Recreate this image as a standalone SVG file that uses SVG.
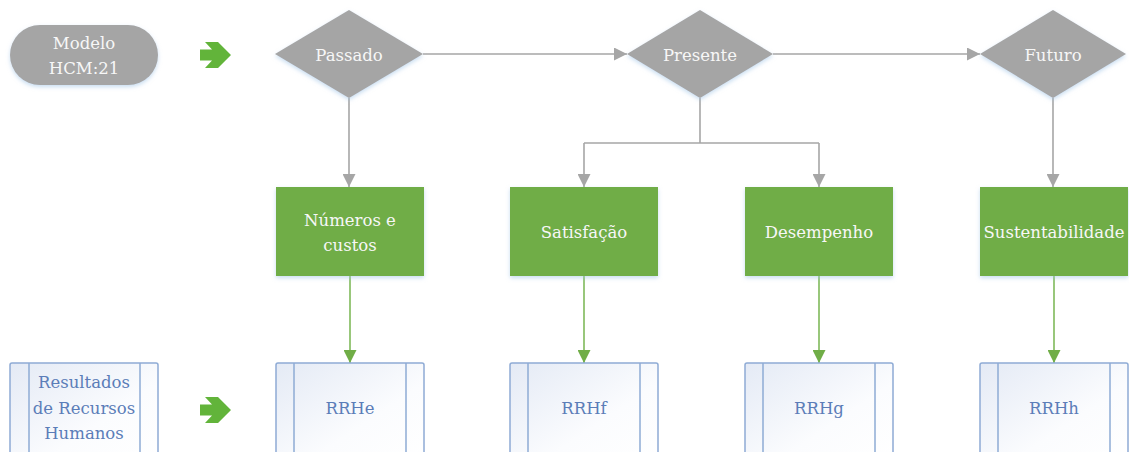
<svg xmlns="http://www.w3.org/2000/svg" width="1129" height="452" viewBox="0 0 1129 452">
<style>
.gray{fill:#a5a5a5}
.green{fill:#70ad47}
.blue{fill:url(#bg);stroke:#8eabd5;stroke-width:1.5}
.stripe{stroke:#8eabd5;stroke-width:1.5;fill:none}
.lt{font-family:'DejaVu Serif','Liberation Serif',serif;font-size:16.5px;fill:#f7f7f7;text-anchor:middle}
.bt{font-family:'DejaVu Serif','Liberation Serif',serif;font-size:16.5px;fill:#5b7db8;text-anchor:middle}
.cg{stroke:#a6a6a6;stroke-width:1.6;fill:none}
.cgr{stroke:#7fb95a;stroke-width:1.6;fill:none}
.big{fill:#62b43a}
</style>
<defs>
<linearGradient id="bg" x1="0" y1="0" x2="1" y2="1">
<stop offset="0" stop-color="#e4eaf5"/>
<stop offset="0.6" stop-color="#fbfcfe"/>
<stop offset="1" stop-color="#ffffff"/>
</linearGradient>
<filter id="sh" x="-10%" y="-10%" width="120%" height="130%">
<feDropShadow dx="0" dy="2" stdDeviation="2" flood-color="#9dc3e6" flood-opacity="0.55"/>
</filter>
<marker id="ag" viewBox="0 0 10 10" refX="10" refY="5" markerWidth="13" markerHeight="13" markerUnits="userSpaceOnUse" orient="auto">
<path d="M0,0 L10,5 L0,10 z" fill="#a6a6a6"/>
</marker>
<marker id="agr" viewBox="0 0 10 10" refX="10" refY="5" markerWidth="13" markerHeight="13" markerUnits="userSpaceOnUse" orient="auto">
<path d="M0,0 L10,5 L0,10 z" fill="#70ad47"/>
</marker>
</defs>

<g id="connectors">
<line class="cg" x1="423" y1="54" x2="627" y2="54" marker-end="url(#ag)"/>
<line class="cg" x1="773" y1="54" x2="980" y2="54" marker-end="url(#ag)"/>
<line class="cg" x1="349" y1="98" x2="349" y2="187" marker-end="url(#ag)"/>
<polyline class="cg" points="700,98 700,143"/>
<polyline class="cg" points="584,143 819,143"/>
<line class="cg" x1="584" y1="143" x2="584" y2="187" marker-end="url(#ag)"/>
<line class="cg" x1="819" y1="143" x2="819" y2="187" marker-end="url(#ag)"/>
<line class="cg" x1="1053" y1="98" x2="1053" y2="187" marker-end="url(#ag)"/>
<line class="cgr" x1="350" y1="276" x2="350" y2="363" marker-end="url(#agr)"/>
<line class="cgr" x1="584" y1="276" x2="584" y2="363" marker-end="url(#agr)"/>
<line class="cgr" x1="819" y1="276" x2="819" y2="363" marker-end="url(#agr)"/>
<line class="cgr" x1="1054" y1="276" x2="1054" y2="363" marker-end="url(#agr)"/>
</g>

<g id="modelo">
<rect class="gray" x="10" y="25" width="148" height="60" rx="30" filter="url(#sh)"/>
<text class="lt" x="84" y="49">Modelo</text>
<text class="lt" x="84" y="74">HCM:21</text>
</g>
<g id="arrow-top">
<path class="big" d="M200,49.5 H212 L205,42 H218 L231,55 L218,68 H205 L212,60.5 H200 Z"/>
</g>
<g id="passado">
<polygon class="gray" points="275,54 349,10 423,54 349,98" filter="url(#sh)"/>
<text class="lt" x="349" y="61">Passado</text>
</g>
<g id="presente">
<polygon class="gray" points="627,54 700,10 773,54 700,98" filter="url(#sh)"/>
<text class="lt" x="700" y="61">Presente</text>
</g>
<g id="futuro">
<polygon class="gray" points="980,54 1053,10 1126,54 1053,98" filter="url(#sh)"/>
<text class="lt" x="1053" y="61">Futuro</text>
</g>

<g id="numeros">
<rect class="green" x="276" y="187" width="148" height="89" filter="url(#sh)"/>
<text class="lt" x="350" y="226">Números e</text>
<text class="lt" x="350" y="251">custos</text>
</g>
<g id="satisfacao">
<rect class="green" x="510" y="187" width="148" height="89" filter="url(#sh)"/>
<text class="lt" x="584" y="238">Satisfação</text>
</g>
<g id="desempenho">
<rect class="green" x="745" y="187" width="148" height="89" filter="url(#sh)"/>
<text class="lt" x="819" y="238">Desempenho</text>
</g>
<g id="sustentabilidade">
<rect class="green" x="980" y="187" width="148" height="89" filter="url(#sh)"/>
<text class="lt" x="1054" y="238">Sustentabilidade</text>
</g>

<g id="resultados">
<rect class="blue" x="10" y="363" width="148" height="100" rx="2"/>
<line class="stripe" x1="29" y1="363" x2="29" y2="463"/>
<line class="stripe" x1="140" y1="363" x2="140" y2="463"/>
<text class="bt" x="84" y="388">Resultados</text>
<text class="bt" x="84" y="414">de Recursos</text>
<text class="bt" x="84" y="439">Humanos</text>
</g>
<g id="arrow-bottom">
<path class="big" d="M200,404.5 H212 L205,397 H218 L231,410 L218,423 H205 L212,415.5 H200 Z"/>
</g>
<g id="rrhe">
<rect class="blue" x="276" y="363" width="148" height="100" rx="2"/>
<line class="stripe" x1="294" y1="363" x2="294" y2="463"/>
<line class="stripe" x1="406" y1="363" x2="406" y2="463"/>
<text class="bt" x="350" y="414">RRHe</text>
</g>
<g id="rrhf">
<rect class="blue" x="510" y="363" width="148" height="100" rx="2"/>
<line class="stripe" x1="528" y1="363" x2="528" y2="463"/>
<line class="stripe" x1="640" y1="363" x2="640" y2="463"/>
<text class="bt" x="584" y="414">RRHf</text>
</g>
<g id="rrhg">
<rect class="blue" x="745" y="363" width="148" height="100" rx="2"/>
<line class="stripe" x1="763" y1="363" x2="763" y2="463"/>
<line class="stripe" x1="875" y1="363" x2="875" y2="463"/>
<text class="bt" x="819" y="414">RRHg</text>
</g>
<g id="rrhh">
<rect class="blue" x="980" y="363" width="148" height="100" rx="2"/>
<line class="stripe" x1="998" y1="363" x2="998" y2="463"/>
<line class="stripe" x1="1110" y1="363" x2="1110" y2="463"/>
<text class="bt" x="1054" y="414">RRHh</text>
</g>
</svg>
